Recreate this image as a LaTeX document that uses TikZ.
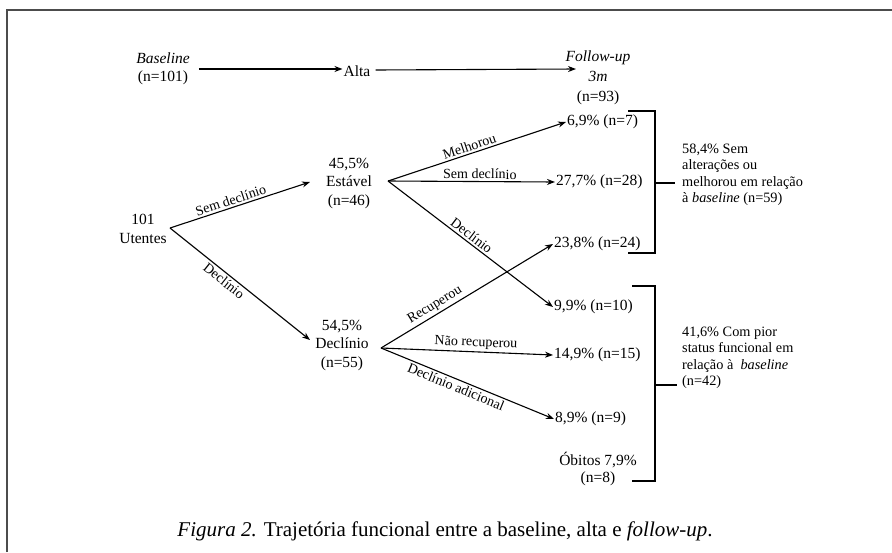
\documentclass[tikz,border=0pt]{standalone}
\usepackage{fontspec}
\setmainfont{Liberation Serif}
\usepackage{tikz}
\usetikzlibrary{arrows.meta}

\begin{document}
\begin{tikzpicture}[x=1pt, y=-1pt,
        grp/.style = {align=center, inner sep=1pt, font=\fontsize{15.5}{18.5}\selectfont},
        res/.style = {anchor=west, inner sep=1pt, font=\fontsize{15.5}{18}\selectfont},
        lbl/.style = {sloped, inner sep=2pt, font=\fontsize{14}{16}\selectfont},
        note/.style = {anchor=west, align=left, inner sep=0pt, font=\fontsize{14.3}{16.5}\selectfont},
        arr/.style = {-{Stealth[length=8pt,width=6pt]}, line width=1.1pt},
        brk/.style = {line width=2pt},
    ]
        \useasboundingbox (0,0) rectangle (892,552);
        \draw[line width=2pt, black!70] (7,552) -- (7,10) -- (892,10);

        \node[grp] (base) at (163,69) {\textit{Baseline}\\(n=101)};
        \node[grp] (alta) at (357,71) {Alta};
        \node[grp, font=\fontsize{15.5}{20}\selectfont] (fup) at (598,78) {\textit{Follow-up}\\\textit{3m}\\(n=93)};
        \draw[arr] (base.east) ++(8,0) -- (alta.west |- base.east);
        \draw[arr] (alta.east) ++(4,-1) -- (576,69);

        \node[grp] (ut) at (143,229) {101\\Utentes};
        \node[grp] (est) at (349,183) {45,5\%\\Estável\\(n=46)};
        \node[grp] (dec) at (342,345) {54,5\%\\Declínio\\(n=55)};
        \coordinate (ut-r) at (170,228);
        \coordinate (est-l) at (310,182);
        \coordinate (est-r) at (388,181);
        \coordinate (dec-l) at (310,340);
        \coordinate (dec-r) at (381,348);

        \draw[arr] (ut-r) -- node[lbl, above, pos=.45] {Sem declínio} (est-l);
        \draw[arr] (ut-r) -- node[lbl, below, pos=.42] {Declínio} (dec-l);

        \node[res] (m7) at (566,122) {6,9\% (n=7)};
        \node[res] (s28) at (555,182) {27,7\% (n=28)};
        \node[res] (r24) at (553,244) {23,8\% (n=24)};
        \node[res] (d10) at (553,307) {9,9\% (n=10)};
        \node[res] (n15) at (553,355) {14,9\% (n=15)};
        \node[res] (a9) at (554,419) {8,9\% (n=9)};
        \node[grp, font=\fontsize{15.5}{17}\selectfont] (obt) at (598,469) {Óbitos 7,9\%\\(n=8)};

        \draw[arr] (est-r) -- node[lbl, above, pos=.47] {Melhorou} (m7.west);
        \draw[arr] (est-r) -- node[lbl, above, pos=.55] {Sem declínio} (s28.west);
        \draw[arr] (est-r) -- node[lbl, above, pos=.48] {Declínio} (d10.west);
        \draw[arr] (dec-r) -- node[lbl, above, pos=.34] {Recuperou} (r24.west);
        \draw[arr] (dec-r) -- node[lbl, above, pos=.55] {Não recuperou} (n15.west);
        \draw[arr] (dec-r) -- node[lbl, below, pos=.45] {Declínio adicional} (a9.west);

        \draw[brk] (628,111) -- (655,111) -- (655,253) -- (628,253);
        \draw[brk] (632,286) -- (655,286) -- (655,481) -- (632,481);
        \coordinate (top-t) at (655,183);
        \coordinate (bot-t) at (655,385);
        \node[note] (sem) at (682,175) {58,4\% Sem\\alterações ou\\melhorou em relação\\à \textit{baseline} (n=59)};
        \node[note] (pior) at (682,358) {41,6\% Com pior\\status funcional em\\relação à \ \textit{baseline}\\(n=42)};
        \draw[brk] (top-t) -- ([xshift=-7pt]top-t -| sem.west);
        \draw[brk] (bot-t) -- ([xshift=-5pt]bot-t -| pior.west);

        \node[font=\fontsize{21}{24}\selectfont] (cap) at (445,531) {\textit{Figura 2.} Trajetória funcional entre a baseline, alta e \textit{follow-up}.};
    \end{tikzpicture}
\end{document}
